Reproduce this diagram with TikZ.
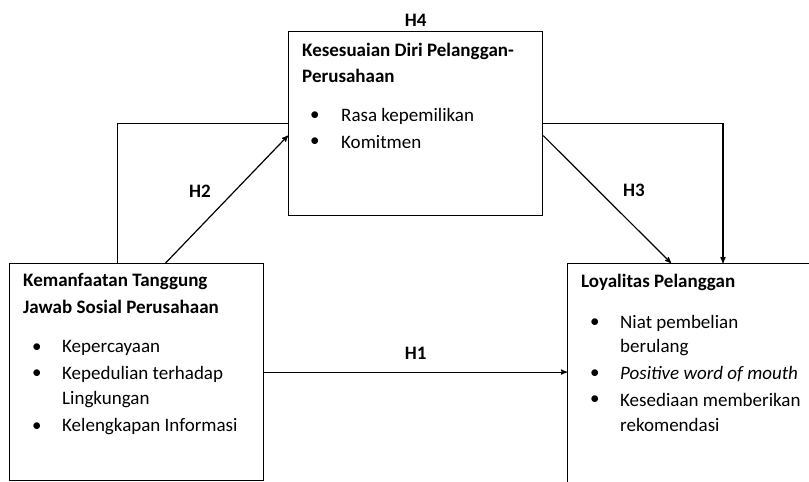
\documentclass[tikz,border=0pt]{standalone}
\usepackage{fontspec}
\setmainfont{Carlito}
\usetikzlibrary{arrows,positioning}

\tikzset{
  box/.style={draw,line width=1.2pt,anchor=north west,inner sep=0pt},
  txt/.style={anchor=west,inner sep=0pt,font=\fontsize{19}{25}\selectfont},
  ttl/.style={txt,font=\fontsize{19}{25}\selectfont\bfseries},
  hyp/.style={inner sep=0pt,font=\fontsize{19}{25}\selectfont\bfseries},
  link/.style={->,>=stealth',line width=1.2pt},
  line/.style={line width=1.2pt}
}

\begin{document}
\begin{tikzpicture}[x=1pt,y=-1pt]
\useasboundingbox (0,0) rectangle (809,482);
\clip (0,0) rectangle (809,482);

% boxes
\node[box,minimum width=254,minimum height=184] (fit) at (288,31) {};
\node[box,minimum width=254,minimum height=217] (csr) at (9,263) {};
\node[box,minimum width=270,minimum height=240] (loy) at (567,263) {};

% titles
\node[ttl] (fitT1) at (302,51) {Kesesuaian Diri Pelanggan-};
\node[ttl] (fitT2) at (302,76) {Perusahaan};
\node[ttl] (csrT1) at (23,282) {Kemanfaatan Tanggung};
\node[ttl] (csrT2) at (23,307) {Jawab Sosial Perusahaan};
\node[ttl] (loyT1) at (581,282) {Loyalitas Pelanggan};

% items
\foreach \y/\t [count=\n] in {116/Rasa kepemilikan,142/Komitmen}
  \node[txt] (fitI\n) at (341,\y) {\t};
\foreach \y [count=\n] in {116,142}
  \node[txt] (fitB\n) at (310,\y) {\textbullet};

\foreach \y/\t [count=\n] in {348/Kepercayaan,374/Kepedulian terhadap,400/Lingkungan,427/Kelengkapan Informasi}
  \node[txt] (csrI\n) at (62,\y) {\t};
\foreach \y [count=\n] in {348,374,427}
  \node[txt] (csrB\n) at (32,\y) {\textbullet};

\foreach \y/\t [count=\n] in {323/Niat pembelian,348/berulang,374/\itshape Positive word of mouth,400/Kesediaan memberikan,425/rekomendasi}
  \node[txt] (loyI\n) at (620,\y) {\t};
\foreach \y [count=\n] in {323,374,400}
  \node[txt] (loyB\n) at (590,\y) {\textbullet};

% hypotheses
\node[hyp,above=4pt of fit.north] (h4) {H4};
\node[hyp] (h2) at (200,191) {H2};
\node[hyp] (h3) at (634,190) {H3};

% connectors
\draw[line] ([xshift=-19pt]csr.north) |- (fit.west);
\draw[link] ([xshift=29pt]csr.north) -- ([yshift=-12pt]fit.west);
\draw[link] (fit.east) -| ([xshift=156pt]loy.north west);
\draw[link] ([yshift=-12pt]fit.east) -- ([xshift=104pt]loy.north west);
\draw[link] (csr.east) -- node[hyp,above=12pt] (h1) {H1} (csr.east -| loy.west);
\end{tikzpicture}
\end{document}
